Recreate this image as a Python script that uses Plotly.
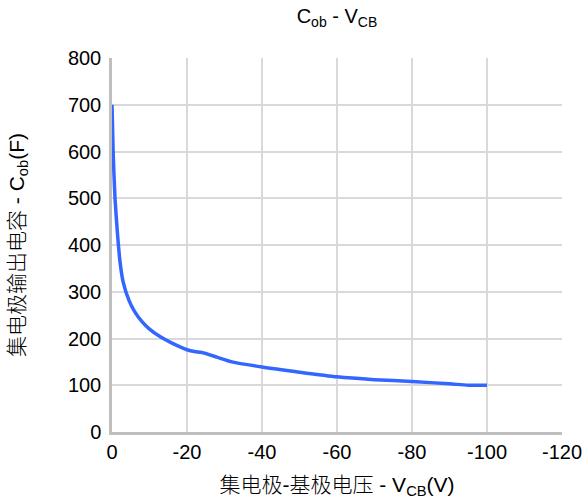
import plotly.graph_objects as go

# Data
vcb = [0, -0.3, -0.8, -1.5, -2.2, -3, -4.5, -6, -8, -10, -13, -16, -20, -22, -24,
       -28, -32, -40, -50, -60, -70, -80, -90, -95, -100]
cob = [700, 600, 500, 420, 360, 320, 282, 258, 236, 220, 203, 190, 176, 172, 170,
       160, 150, 139, 128, 118, 112, 108, 103, 100, 100]

x_ticks = [0, -20, -40, -60, -80, -100, -120]
y_ticks = [0, 100, 200, 300, 400, 500, 600, 700, 800]

font_family = "Liberation Sans, Arial, Noto Sans CJK SC, sans-serif"

fig = go.Figure()
fig.add_trace(go.Scatter(
    x=vcb, y=cob, mode="lines",
    line=dict(color="#3366ff", width=3.5, shape="spline", smoothing=0.6),
    showlegend=False,
))

fig.update_layout(
    width=585, height=504, autosize=False,
    margin=dict(l=112, r=23, t=58, b=72),
    paper_bgcolor="white", plot_bgcolor="white",
    font=dict(family=font_family, size=20, color="black"),
    title=dict(text="C<sub>ob</sub> - V<sub>CB</sub>", x=0.576, xanchor="center",
               y=0.968, yanchor="middle", font=dict(size=20)),
)

fig.update_xaxes(
    range=[0, -120], tickvals=x_ticks, ticktext=[str(v) for v in x_ticks],
    showgrid=True, gridcolor="#d9d9d9", gridwidth=1.5,
    showline=True, linecolor="#bfbfbf", linewidth=2.5,
    zeroline=False, ticks="", ticklen=0, automargin=False,
    title=dict(text="集电极-基极电压 - V<sub>CB</sub>(V)", standoff=16,
               font=dict(size=21, weight=300)),
)
fig.update_yaxes(
    range=[0, 800], tickvals=y_ticks,
    showgrid=True, gridcolor="#d9d9d9", gridwidth=1.5,
    showline=True, linecolor="#bfbfbf", linewidth=2.5,
    zeroline=False, ticks="outside", ticklen=4, tickcolor="rgba(0,0,0,0)",
    automargin=False,
    title=dict(text="集电极输出电容 - C<sub>ob</sub>(F)", standoff=38,
               font=dict(size=21, weight=300)),
)

fig.write_html("out.html", config={"displayModeBar": False},
               post_script="document.body.style.margin='0';")
